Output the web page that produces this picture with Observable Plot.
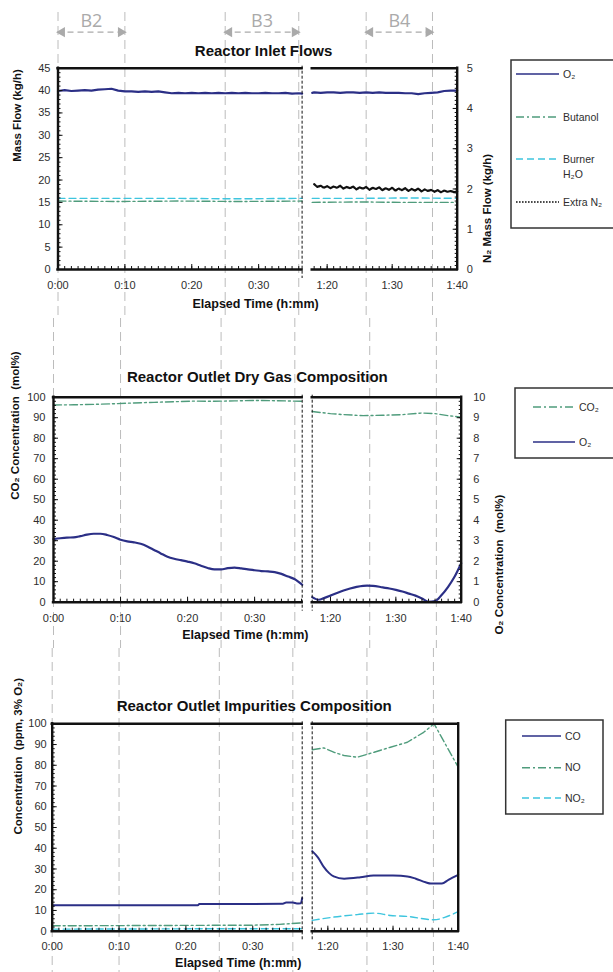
<!DOCTYPE html>
<html>
<head>
<meta charset="utf-8">
<script src="https://cdn.jsdelivr.net/npm/d3@7"></script>
<script src="https://cdn.jsdelivr.net/npm/@observablehq/plot@0.6"></script>
<style>
  html, body { margin: 0; padding: 0; background: #fff; }
  #fig { position: relative; width: 613px; height: 972px; overflow: hidden; background: #fff;
         font-family: "Liberation Sans", Arial, sans-serif; }
  #fig svg { position: absolute; left: 0; }
</style>
</head>
<body>
<div id="fig"></div>
<script>
// ---------- shared axis data (time in elapsed minutes) ----------
const timeTicks = [0, 10, 20, 30, 80, 90, 100];
const windowNames = ["B2", "B3", "B4"];
const windowStart = [0, 25, 86];
const windowEnd = [10, 36, 96.2];

// ---------- Reactor inlet flows (kg/h) ----------
const inletO2Time = [0, 1, 2, 3, 4, 5, 6, 7, 8, 9, 10, 11, 12, 13, 14, 15, 16, 17, 18, 19, 20,
  21, 22, 23, 24, 25, 26, 27, 28, 29, 30, 31, 32, 33, 34, 35, 36, 36.5,
  77.7, 78, 79, 80, 81, 82, 83, 84, 85, 86, 87, 88, 89, 90, 91, 92, 93, 94, 95, 96, 97, 98, 99, 100];
const inletO2Flow = [39.9, 40.1, 39.9, 40.0, 40.1, 40.0, 40.2, 40.3, 40.4, 40.0, 39.8, 39.8, 39.7,
  39.8, 39.7, 39.8, 39.6, 39.4, 39.5, 39.4, 39.5, 39.4, 39.5, 39.4, 39.5, 39.4, 39.5, 39.4, 39.5,
  39.4, 39.4, 39.5, 39.4, 39.4, 39.5, 39.3, 39.4, 39.3,
  39.5, 39.6, 39.5, 39.6, 39.6, 39.5, 39.6, 39.6, 39.5, 39.6, 39.5, 39.6, 39.5, 39.5, 39.5, 39.4,
  39.4, 39.2, 39.4, 39.5, 39.6, 39.9, 40.0, 40.0];
const butanolTime = [0, 9, 18, 27, 36.5, 77.7, 85, 92, 100];
const butanolFlow = [15.3, 15.2, 15.3, 15.2, 15.3, 15.0, 15.1, 15.0, 15.0];
const burnerH2OTime = [0, 9, 18, 27, 36.5, 77.7, 85, 92, 100];
const burnerH2OFlow = [15.9, 15.9, 15.9, 15.8, 15.9, 15.9, 15.9, 16.0, 15.9];
const extraN2Time = d3.range(78, 100.001, 0.5);
const extraN2Flow = [2.12, 2.05, 2.08, 2.03, 2.07, 2.02, 2.06, 2.03, 2.08, 2.01, 2.05, 2.02, 2.06,
  1.99, 2.04, 2.01, 2.05, 1.98, 2.03, 2.00, 2.04, 1.97, 2.02, 1.98, 2.03, 1.96, 2.01, 1.97, 2.02,
  1.95, 2.00, 1.96, 2.01, 1.94, 1.99, 1.95, 1.98, 1.93, 1.97, 1.92, 1.96, 1.93, 1.95, 1.92, 1.94];

// ---------- Reactor outlet dry gas (mol%) ----------
const dryCO2Time = [0, 3, 6, 9, 12, 15, 18, 21, 24, 27, 30, 33, 37.1,
  77.2, 80, 82, 85, 88, 91, 94, 96, 98, 100];
const dryCO2 = [96.2, 96.3, 96.5, 96.8, 97.2, 97.5, 97.8, 98.1, 98.0, 98.2, 98.4, 98.3, 98.0,
  93.0, 92.0, 91.5, 91.0, 91.2, 91.5, 92.3, 92.0, 91.0, 90.3];
const dryO2Time = [0, 1, 2, 3, 4, 5, 6, 7, 8, 9, 10, 11, 12, 13, 14, 15, 16, 17, 18, 19, 20,
  21, 22, 23, 24, 25, 26, 27, 28, 29, 30, 31, 32, 33, 34, 35, 36, 37.1,
  77.2, 78.2, 79, 80, 81, 82, 83, 84, 85, 85.6, 86.5, 88, 89, 90, 91, 92, 93, 94, 95, 96, 97, 98, 99, 100];
const dryO2 = [3.08, 3.12, 3.15, 3.16, 3.22, 3.30, 3.34, 3.34, 3.28, 3.18, 3.05, 2.97, 2.92, 2.85,
  2.72, 2.55, 2.38, 2.22, 2.12, 2.05, 1.98, 1.90, 1.78, 1.67, 1.60, 1.60, 1.66, 1.69, 1.65, 1.60,
  1.56, 1.52, 1.50, 1.47, 1.38, 1.25, 1.12, 0.85,
  0.25, 0.12, 0.20, 0.32, 0.45, 0.57, 0.67, 0.75, 0.80, 0.81, 0.80, 0.72, 0.67, 0.60, 0.52, 0.42,
  0.32, 0.18, 0.02, 0.05, 0.35, 0.75, 1.25, 1.90];

// ---------- Reactor outlet impurities (ppm, 3% O2) ----------
const coTime = [0, 21.8, 22, 34.5, 35, 36, 36.6, 37.2, 37.4,
  77.6, 78.5, 79.4, 80.2, 80.9, 82.5, 85, 87, 90, 92.2, 93.5, 95, 95.8, 97.5, 98.5, 100];
const coPpm = [12.5, 12.5, 13.1, 13.2, 13.8, 13.8, 13.4, 13.5, 16.0,
  38.6, 35.5, 30.9, 28.0, 26.4, 25.3, 26.0, 26.9, 26.8, 26.4, 25.3, 23.6, 23.0, 23.0, 24.8, 27.2];
const noTime = [0, 10, 20, 30, 34, 37.4, 77.6, 79.4, 80.9, 82.5, 84.5, 87.1, 89.6, 92.2, 94.7, 96.3, 100];
const noPpm = [2.6, 2.7, 2.8, 2.9, 3.3, 4.0, 87.5, 88.4, 86.3, 84.7, 83.9, 86.3, 88.7, 91.1, 95.9, 100, 79.1];
const no2Time = [0, 15, 30, 37.4, 77.6, 80.9, 84.5, 87.1, 89.6, 92.2, 96.3, 98.3, 100];
const no2Ppm = [1.0, 1.1, 1.2, 1.2, 5.2, 6.8, 8.0, 8.7, 7.6, 7.1, 5.5, 7.1, 9.4];

// ---------- legend labels ----------
const inletLabels = ["O₂", "Butanol", "Burner\nH₂O", "Extra N₂"];
const dryLabels = ["CO₂", "O₂"];
const impurityLabels = ["CO", "NO", "NO₂"];

// ---------- styling ----------
const INK = "#111";
const TEXT = "#2e2e2e";
const NAVY = "#2b2f86";
const GREEN = "#4f9c7c";
const CYAN = "#3ec5de";
const GUIDE = "#bcbcbc";
const DASHDOT = "8,3,2,3";
const DASH = "7,4";
const DOT = "1.6,1.4";
const FONT = '"Liberation Sans", Arial, sans-serif';

const BREAK = 60; // minutes: data before/after the gap in the record
const rows = (t, v, k = 1) => t.map((x, i) => ({t: x, v: v[i] * k, seg: x < BREAK ? "a" : "b"}));
const fmtTime = m => `${Math.floor(m / 60)}:${String(Math.round(m % 60)).padStart(2, "0")}`;

// Frame, break markers and inward ticks shared by every panel
function frameMarks(c) {
  const [a0, a1] = c.segA, [b0, b1] = c.segB;
  const edge = {stroke: INK, strokeWidth: 2.4, strokeLinecap: "square"};
  return [
    Plot.ruleY([0, c.yMax], {x1: a0, x2: a1, ...edge}),
    Plot.ruleY([0, c.yMax], {x1: b0, x2: b1, ...edge}),
    Plot.ruleX([a0, b1], edge),
    Plot.ruleX(c.breakEdges, {stroke: INK, strokeWidth: 1, strokeDasharray: "3,2", insetTop: -2, insetBottom: -9})
  ];
}

function timeAxisMarks(c) {
  const minor = [...d3.range(0, c.segA[1]), ...d3.range(Math.ceil(c.segB[0]), 100.001)];
  return [
    Plot.axisX({anchor: "bottom", ticks: minor, tickSize: -3, tickFormat: () => "", label: null, stroke: INK}),
    Plot.axisX({anchor: "bottom", ticks: timeTicks, tickSize: -5, tickFormat: () => "", label: null, stroke: INK}),
    Plot.axisX({anchor: "bottom", ticks: timeTicks, tickSize: 0, tickPadding: c.xPad, tickFormat: fmtTime,
      label: null, fill: TEXT, fontSize: 11})
  ];
}

function valueAxisMarks(anchor, yMax, minorStep, labelStep, factor, pad) {
  const eps = 1e-6;
  return [
    Plot.axisY({anchor, ticks: d3.range(0, yMax + eps, minorStep), tickSize: -3, tickFormat: () => "",
      label: null, stroke: INK}),
    Plot.axisY({anchor, ticks: d3.range(0, yMax + eps, labelStep), tickSize: -5, tickFormat: () => "",
      label: null, stroke: INK}),
    Plot.axisY({anchor, ticks: d3.range(0, yMax + eps, labelStep), tickSize: 0, tickPadding: pad,
      tickFormat: d => String(Math.round(d / factor)), label: null, fill: TEXT, fontSize: 11})
  ];
}

function guideMarks(c, topReach) {
  const bounds = [...windowStart, ...windowEnd];
  return [
    Plot.ruleX(bounds, {stroke: GUIDE, strokeWidth: 1, strokeDasharray: "9,5",
      insetTop: -topReach, insetBottom: -c.marginBottom})
  ];
}

function labelText(text, opts) {
  return Plot.text([text], {text: d => d, fontFamily: FONT, lineAnchor: "middle", ...opts});
}

function panel(c, marks) {
  const svg = Plot.plot({
    width: 613,
    height: c.height,
    marginLeft: c.left,
    marginRight: 613 - c.right,
    marginTop: c.marginTop,
    marginBottom: c.marginBottom,
    // piecewise time axis: the record gap is squeezed between the two segments
    x: {type: "linear", domain: [0, c.segA[1], c.segB[0], 100], range: [c.left, c.breakX[0], c.breakX[1], c.right]},
    y: {type: "linear", domain: [0, c.yMax]},
    style: {fontFamily: FONT, fontSize: "11px", background: "transparent", overflow: "visible"},
    marks: [
      ...guideMarks(c, c.guideReach),
      ...marks,
      ...timeAxisMarks(c),
      ...frameMarks(c),
      labelText(c.title, {frameAnchor: "top", dy: c.titleDy, dx: c.titleDx, fontSize: 15, fontWeight: "bold", fill: INK}),
      labelText("Elapsed Time (h:mm)", {frameAnchor: "bottom", dy: c.xLabelDy, dx: c.xLabelDx, fontSize: 12.5,
        fontWeight: "bold", fill: INK})
    ]
  });
  svg.style.top = c.top + "px";
  document.getElementById("fig").appendChild(svg);
  return svg;
}

// ---------- Panel 1: inlet flows ----------
const p1 = {
  top: 0, height: 318, left: 57.5, right: 456.7, marginTop: 67.7, marginBottom: 49,
  segA: [0, 36.5], segB: [77.7, 100], breakX: [301.6, 311.7], breakEdges: [36.5],
  yMax: 45, xPad: 12, guideReach: 55.7,
  title: "Reactor Inlet Flows", titleDy: -17, titleDx: 6, xLabelDy: 34, xLabelDx: -2
};
const N2K = 45 / 5; // right axis (0–5 kg/h) drawn on the 0–45 kg/h scale
panel(p1, [
  Plot.line(rows(butanolTime, butanolFlow), {x: "t", y: "v", z: "seg", stroke: GREEN, strokeWidth: 1.4, strokeDasharray: DASHDOT}),
  Plot.line(rows(burnerH2OTime, burnerH2OFlow), {x: "t", y: "v", z: "seg", stroke: CYAN, strokeWidth: 1.4, strokeDasharray: DASH}),
  Plot.line(rows(inletO2Time, inletO2Flow), {x: "t", y: "v", z: "seg", stroke: NAVY, strokeWidth: 2.2}),
  Plot.line(rows(extraN2Time, extraN2Flow, N2K), {x: "t", y: "v", z: "seg", stroke: INK, strokeWidth: 2.2, strokeDasharray: "2,1"}),
  ...valueAxisMarks("left", 45, 1, 5, 1, 7.5),
  ...valueAxisMarks("right", 45, 0.9, 9, N2K, 9.5),
  labelText("Mass Flow (kg/h)", {frameAnchor: "left", rotate: -90, dx: -40.5, dy: -7, fontSize: 11.5, fontWeight: "bold", fill: INK}),
  labelText("N₂ Mass Flow (kg/h)", {frameAnchor: "right", rotate: -90, dx: 30, dy: -15, fontSize: 11.5, fontWeight: "bold", fill: INK}),
  // window annotations along the top
  Plot.ruleY(windowNames, {x1: (d, i) => windowStart[i], x2: (d, i) => windowEnd[i], y: () => 45, dy: -36,
    stroke: "#aaa", strokeWidth: 1.3, strokeDasharray: "6,4"}),
  Plot.dot(windowNames, {x: (d, i) => windowStart[i], y: () => 45, dy: -36, dx: 4, symbol: "triangle",
    rotate: -90, r: 3.8, fill: "#aaa", stroke: "none"}),
  Plot.dot(windowNames, {x: (d, i) => windowEnd[i], y: () => 45, dy: -36, dx: -4, symbol: "triangle",
    rotate: 90, r: 3.8, fill: "#aaa", stroke: "none"}),
  Plot.text(windowNames, {x: (d, i) => (windowStart[i] + windowEnd[i]) / 2, y: () => 45, dy: -47, text: d => d,
    fill: "#aaa", fontSize: 18, fontFamily: "'Open Sans', sans-serif", lineAnchor: "middle"})
]);

// ---------- Panel 2: dry gas composition ----------
const p2 = {
  top: 318, height: 330, left: 53, right: 460.7, marginTop: 78.7, marginBottom: 46.3,
  segA: [0, 37.1], segB: [77.2, 100], breakX: [301.7, 311.7], breakEdges: [37.1, 77.2],
  yMax: 100, xPad: 12, guideReach: 78.7,
  title: "Reactor Outlet Dry Gas Composition", titleDy: -20, titleDx: 0, xLabelDy: 33, xLabelDx: -12
};
const O2K = 100 / 10; // right axis (0–10 mol%) drawn on the 0–100 mol% scale
panel(p2, [
  Plot.line(rows(dryCO2Time, dryCO2), {x: "t", y: "v", z: "seg", stroke: GREEN, strokeWidth: 1.4, strokeDasharray: DASHDOT}),
  Plot.line(rows(dryO2Time, dryO2, O2K), {x: "t", y: "v", z: "seg", stroke: NAVY, strokeWidth: 2.2, curve: "monotone-x"}),
  ...valueAxisMarks("left", 100, 2, 10, 1, 8),
  ...valueAxisMarks("right", 100, 2, 10, O2K, 12),
  labelText("CO₂ Concentration  (mol%)", {frameAnchor: "left", rotate: -90, dx: -38, dy: 0, fontSize: 11.5, fontWeight: "bold", fill: INK}),
  labelText("O₂ Concentration  (mol%)", {frameAnchor: "right", rotate: -90, dx: 38, dy: -5, fontSize: 11.5, fontWeight: "bold", fill: INK})
]);

// ---------- Panel 3: impurities ----------
const p3 = {
  top: 648, height: 324, left: 51.7, right: 457.7, marginTop: 75.3, marginBottom: 41.3,
  segA: [0, 37.4], segB: [77.6, 100], breakX: [301.7, 311.7], breakEdges: [37.4, 77.6],
  yMax: 100, xPad: 11, guideReach: 75.3,
  title: "Reactor Outlet Impurities Composition", titleDy: -18, titleDx: -1, xLabelDy: 32, xLabelDx: -17
};
panel(p3, [
  Plot.line(rows(noTime, noPpm), {x: "t", y: "v", z: "seg", stroke: GREEN, strokeWidth: 1.4, strokeDasharray: DASHDOT}),
  Plot.line(rows(no2Time, no2Ppm), {x: "t", y: "v", z: "seg", stroke: CYAN, strokeWidth: 1.4, strokeDasharray: DASH, curve: "monotone-x"}),
  Plot.line(rows(coTime, coPpm), {x: "t", y: "v", z: "seg", stroke: NAVY, strokeWidth: 2, curve: "monotone-x"}),
  ...valueAxisMarks("left", 100, 2, 10, 1, 5.5),
  labelText("Concentration  (ppm, 3% O₂)", {frameAnchor: "left", rotate: -90, dx: -33.7, dy: 7, fontSize: 11.5, fontWeight: "bold", fill: INK})
]);

// ---------- legends ----------
const legendSvg = d3.select("#fig").append("svg")
  .attr("width", 613).attr("height", 972).style("top", "0px")
  .style("font-family", FONT);

function legend({box, sample, textX, rowsY, labels, strokes, dashes}) {
  const g = legendSvg.append("g");
  g.append("rect").attr("x", box[0]).attr("y", box[1]).attr("width", box[2]).attr("height", box[3])
    .attr("fill", "#fff").attr("stroke", "#333").attr("stroke-width", 1.5);
  labels.forEach((label, i) => {
    g.append("line").attr("x1", sample[0]).attr("x2", sample[1]).attr("y1", rowsY[i]).attr("y2", rowsY[i])
      .attr("stroke", strokes[i]).attr("stroke-width", 1.5).attr("stroke-dasharray", dashes[i]);
    const t = g.append("text").attr("x", textX).attr("y", rowsY[i]).attr("fill", TEXT).attr("font-size", 10.5);
    label.split("\n").forEach((line, j) => {
      t.append("tspan").attr("x", textX).attr("dy", j === 0 ? "0.35em" : "1.5em").text(line);
    });
  });
}

legend({box: [511, 60, 140, 168], sample: [516, 559], textX: 563, rowsY: [74, 117, 159, 202],
  labels: inletLabels, strokes: [NAVY, GREEN, CYAN, INK], dashes: [null, DASHDOT, DASH, DOT]});
legend({box: [515, 388, 140, 70], sample: [533, 575], textX: 579, rowsY: [407, 442],
  labels: dryLabels, strokes: [GREEN, NAVY], dashes: [DASHDOT, null]});
legend({box: [505.7, 720, 97.3, 94], sample: [522, 561], textX: 565, rowsY: [736, 767.7, 798],
  labels: impurityLabels, strokes: [NAVY, GREEN, CYAN], dashes: [null, DASHDOT, DASH]});
</script>
</body>
</html>
